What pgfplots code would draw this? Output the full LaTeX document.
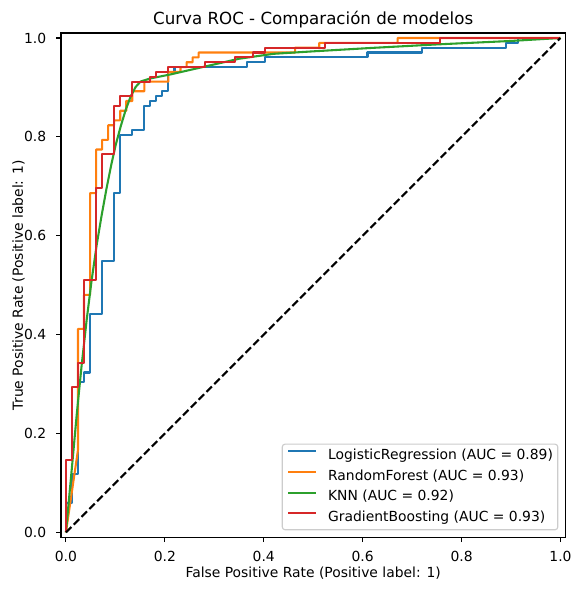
\documentclass[border=0pt]{standalone}
\usepackage{fontspec}
\setmainfont{DejaVu Sans}
\usepackage{pgfplots}
\pgfplotsset{compat=1.18}
\definecolor{tabblue}{HTML}{1F77B4}
\definecolor{taborange}{HTML}{FF7F0E}
\definecolor{tabgreen}{HTML}{2CA02C}
\definecolor{tabred}{HTML}{D62728}
\begin{document}
\begin{tikzpicture}
\path[use as bounding box] (-43.9pt,-37.9pt) rectangle (374.4pt,386.9pt);
\begin{axis}[
  at={(0pt,0pt)}, anchor=south west,
  scale only axis, width=363.2pt, height=363.1pt,
  xmin=-0.01, xmax=1.01, ymin=-0.01, ymax=1.01,
  xtick={0,0.2,0.4,0.6,0.8,1}, ytick={0,0.2,0.4,0.6,0.8,1},
  tick pos=left, tick align=outside,
  major tick length=3.5pt,
  every tick/.style={black, line width=0.8pt},
  axis line style={line width=0.8pt},
  /pgf/number format/fixed, /pgf/number format/fixed zerofill,
  /pgf/number format/precision=1, /pgf/number format/assume math mode=true,
  tick label style={font=\fontsize{10}{12}\selectfont},
  xticklabel style={anchor=base, inner sep=0pt, yshift=-14pt},
  yticklabel style={anchor=east, inner sep=0pt, xshift=-7pt},
  xlabel={False Positive Rate (Positive label: 1)},
  ylabel={True Positive Rate (Positive label: 1)},
  xlabel style={at={(axis description cs:0.5,-0.0793)}, anchor=base, inner sep=0pt, font=\fontsize{10}{12}\selectfont},
  ylabel style={at={(axis description cs:-0.0754,0.5)}, anchor=base, inner sep=0pt, font=\fontsize{10}{12}\selectfont},
  title={Curva ROC - Comparación de modelos},
  every axis title shift=0pt,
  title style={at={(axis description cs:0.5,1.0165)}, anchor=base, inner sep=0pt, font=\fontsize{12}{14}\selectfont},
  legend style={at={(0.986,0.014)}, anchor=south east, draw=black!20, line width=0.8pt,
    rounded corners=2pt, fill=white, inner sep=3.5pt, row sep=5pt,
    nodes={inner sep=0pt, text height=7.6pt, text depth=2.3pt, font=\fontsize{10}{12}\selectfont}},
  legend cell align=left,
  legend image code/.code={\draw[#1, line width=1.5pt, rounded corners=0pt] (0pt,3.4pt) -- (20pt,3.4pt); \path (28pt,3.4pt);},
  no markers,
  every axis plot/.append style={line width=1.5pt, line join=round},
]
\addplot[tabblue] coordinates {
(0,0) (0,0.0588) (0.0122,0.0588) (0.0122,0.1176) (0.0244,0.1176) (0.0244,0.3039)
(0.0366,0.3039) (0.0366,0.3235) (0.0488,0.3235) (0.0488,0.4412) (0.0732,0.4412)
(0.0732,0.5490) (0.0976,0.5490) (0.0976,0.6863) (0.1098,0.6863) (0.1098,0.8039)
(0.1341,0.8039) (0.1341,0.8137) (0.1585,0.8137) (0.1585,0.8627) (0.1707,0.8627)
(0.1707,0.8725) (0.1829,0.8725) (0.1829,0.8824) (0.1951,0.8824) (0.1951,0.8922)
(0.2073,0.8922) (0.2073,0.9314) (0.2195,0.9314) (0.2195,0.9412) (0.3659,0.9412)
(0.3659,0.9510) (0.4024,0.9510) (0.4024,0.9608) (0.6098,0.9608) (0.6098,0.9706)
(0.7195,0.9706) (0.7195,0.9804) (0.8902,0.9804) (0.8902,0.9902) (0.9146,0.9902)
(0.9146,1) (1,1)};
\addlegendentry{LogisticRegression (AUC = 0.89)}
\addplot[taborange] coordinates {
(0,0) (0.0244,0.1667) (0.0244,0.4118) (0.0366,0.4118) (0.0366,0.4804) (0.0488,0.4804)
(0.0488,0.6863) (0.0610,0.6863) (0.0610,0.7745) (0.0732,0.7745) (0.0732,0.7941)
(0.0854,0.7941) (0.0854,0.8235) (0.0976,0.8235) (0.0976,0.8333) (0.1098,0.8333)
(0.1098,0.8529) (0.1220,0.8529) (0.1220,0.8725) (0.1341,0.8725) (0.1341,0.8922)
(0.1585,0.8922) (0.1585,0.9118) (0.2073,0.9118) (0.2073,0.9314) (0.2317,0.9314)
(0.2317,0.9412) (0.2439,0.9412) (0.2439,0.9510) (0.2561,0.9510) (0.2561,0.9608)
(0.2683,0.9608) (0.2683,0.9706) (0.4634,0.9706) (0.4634,0.9804) (0.5122,0.9804)
(0.5122,0.9902) (0.6707,0.9902) (0.6707,1) (1,1)};
\addlegendentry{RandomForest (AUC = 0.93)}
\addplot[tabgreen] coordinates {
(0,0) (0.012,0.13) (0.022,0.24) (0.032,0.34) (0.042,0.43) (0.052,0.51) (0.062,0.58)
(0.072,0.64) (0.082,0.695) (0.092,0.745) (0.101,0.785) (0.111,0.822) (0.121,0.855)
(0.131,0.882) (0.141,0.901) (0.151,0.912) (0.17,0.918) (0.21,0.926) (0.28,0.942)
(0.35,0.958) (0.42,0.968) (0.5,0.973) (0.62,0.980) (0.75,0.987) (0.9,0.994) (1,1)};
\addlegendentry{KNN (AUC = 0.92)}
\addplot[tabred] coordinates {
(0,0) (0,0.1471) (0.0122,0.1471) (0.0122,0.2941) (0.0244,0.2941) (0.0244,0.3431)
(0.0366,0.3431) (0.0366,0.5098) (0.0610,0.5098) (0.0610,0.6961) (0.0732,0.6961)
(0.0732,0.7647) (0.0976,0.7647) (0.0976,0.8627) (0.1098,0.8627) (0.1098,0.8824)
(0.1341,0.8824) (0.1341,0.9118) (0.1707,0.9118) (0.1707,0.9216) (0.1829,0.9216)
(0.1829,0.9314) (0.2073,0.9314) (0.2073,0.9412) (0.2805,0.9412) (0.2805,0.9510)
(0.3415,0.9510) (0.3415,0.9608) (0.3780,0.9608) (0.3780,0.9706) (0.4024,0.9706)
(0.4024,0.9804) (0.5244,0.9804) (0.5244,0.9902) (0.7561,0.9902) (0.7561,1) (1,1)};
\addlegendentry{GradientBoosting (AUC = 0.93)}
\addplot[black, dash pattern=on 5.55pt off 2.4pt, forget plot] coordinates {(0,0) (1,1)};
\end{axis}
\end{tikzpicture}
\end{document}
